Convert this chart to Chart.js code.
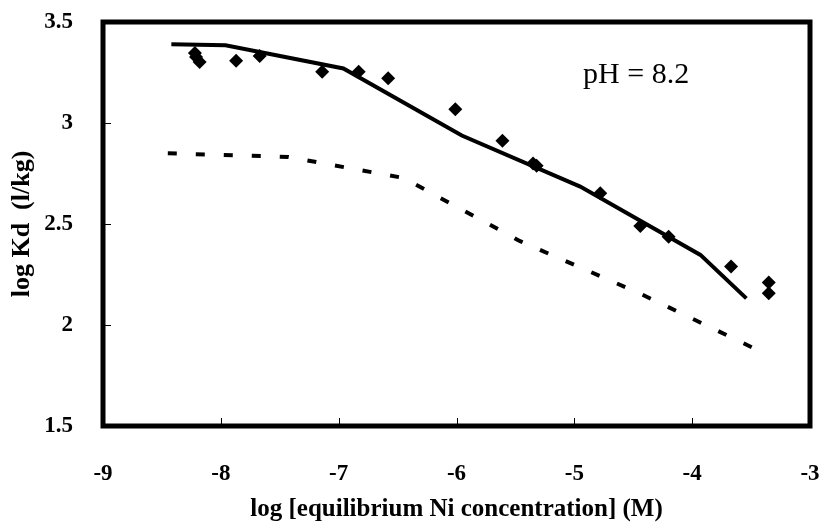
<!DOCTYPE html>
<html><head><meta charset="utf-8">
<script src="https://cdn.jsdelivr.net/npm/chart.js@4"></script>
<style>html,body{margin:0;padding:0;background:#fff;} canvas{display:block;}</style>
</head><body>
<canvas id="c" width="827" height="525"></canvas>
<script>
// Observed data (diamonds)
const obsX = [-8.22, -8.21, -8.18, -7.87, -7.67, -7.14, -6.83, -6.58, -6.01, -5.61, -5.35, -5.32, -4.78, -4.44, -4.20, -3.67, -3.35, -3.35];
const obsY = [3.347, 3.327, 3.302, 3.308, 3.332, 3.254, 3.254, 3.221, 3.068, 2.912, 2.800, 2.788, 2.652, 2.490, 2.437, 2.289, 2.210, 2.157];
// Model fit (solid line)
const fitX = [-8.42, -7.96, -6.96, -5.955, -4.95, -3.93, -3.54];
const fitY = [3.390, 3.385, 3.270, 2.938, 2.685, 2.347, 2.132];
// Second model (dashed line)
const modelX = [-8.45, -7.43, -6.45, -5.46, -4.44, -3.48];
const modelY = [2.850, 2.832, 2.728, 2.415, 2.155, 1.886];
// Axes
const xTicks = [-9, -8, -7, -6, -5, -4, -3];
const yTicks = [1.5, 2, 2.5, 3, 3.5];
const xTitle = 'log [equilibrium Ni concentration] (M)';
const yTitle = 'log Kd  (l/kg)';
const noteText = 'pH = 8.2';
const noteX = -4.926;
const noteY = 3.198;

const serif = '"Liberation Serif", "Times New Roman", serif';
const toPts = (xs, ys) => xs.map((x, i) => ({x: x, y: ys[i]}));

const framePlugin = {
  id: 'frame',
  afterDatasetsDraw(chart) {
    const {ctx, chartArea: a, scales: {x, y}} = chart;
    ctx.save();
    ctx.strokeStyle = '#000';
    ctx.lineWidth = 1;
    ctx.beginPath();
    yTicks.forEach(v => {
      const py = Math.round(y.getPixelForValue(v)) + 0.5;
      ctx.moveTo(a.left, py); ctx.lineTo(a.left + 8, py);
    });
    xTicks.forEach(v => {
      const px = Math.round(x.getPixelForValue(v)) + 0.5;
      ctx.moveTo(px, a.bottom); ctx.lineTo(px, a.bottom - 8);
    });
    ctx.stroke();
    ctx.lineWidth = 5;
    ctx.strokeRect(a.left, a.top, a.right - a.left, a.bottom - a.top);
    ctx.fillStyle = '#000';
    ctx.font = '30px ' + serif;
    ctx.textAlign = 'left';
    ctx.textBaseline = 'alphabetic';
    ctx.fillText(noteText, x.getPixelForValue(noteX), y.getPixelForValue(noteY));
    ctx.restore();
  }
};

new Chart(document.getElementById('c'), {
  type: 'scatter',
  data: {
    datasets: [
      {
        label: 'model',
        data: toPts(modelX, modelY),
        showLine: true,
        borderColor: '#000',
        borderWidth: 4,
        borderDash: [9, 19],
        borderCapStyle: 'butt',
        pointRadius: 0,
        fill: false
      },
      {
        label: 'fit',
        data: toPts(fitX, fitY),
        showLine: true,
        borderColor: '#000',
        borderWidth: 4,
        pointRadius: 0,
        fill: false
      },
      {
        label: 'observed',
        data: toPts(obsX, obsY),
        showLine: false,
        pointStyle: 'rectRot',
        pointRadius: 7,
        backgroundColor: '#000',
        borderColor: '#000',
        borderWidth: 0
      }
    ]
  },
  options: {
    responsive: false,
    devicePixelRatio: 1,
    animation: false,
    layout: {padding: {top: 22, right: 17, left: 0, bottom: 0}},
    plugins: {legend: {display: false}, tooltip: {enabled: false}},
    scales: {
      x: {
        type: 'linear', min: -9, max: -3,
        grid: {display: false},
        border: {display: false},
        afterBuildTicks: s => { s.ticks = xTicks.map(v => ({value: v})); },
        afterFit: s => { s.height = 99; s.paddingLeft = 0; s.paddingRight = 0; },
        ticks: {
          color: '#000', padding: 26, maxRotation: 0, autoSkip: false,
          font: {family: serif, size: 23, weight: 'bold'},
          callback: v => String(v)
        },
        title: {
          display: true, text: xTitle, color: '#000',
          font: {family: serif, size: 25, weight: 'bold'},
          padding: {top: 0, bottom: 0}
        }
      },
      y: {
        type: 'linear', min: 1.5, max: 3.5,
        grid: {display: false},
        border: {display: false},
        afterBuildTicks: s => { s.ticks = yTicks.map(v => ({value: v})); },
        afterFit: s => { s.width = 103; s.paddingTop = 0; s.paddingBottom = 0; },
        ticks: {
          color: '#000', padding: 22, autoSkip: false,
          font: {family: serif, size: 23, weight: 'bold'},
          callback: v => String(v)
        },
        title: {
          display: true, text: yTitle, color: '#000',
          font: {family: serif, size: 26, weight: 'bold'},
          padding: {top: 7, bottom: 0}
        }
      }
    }
  },
  plugins: [framePlugin]
});
</script>
</body></html>
